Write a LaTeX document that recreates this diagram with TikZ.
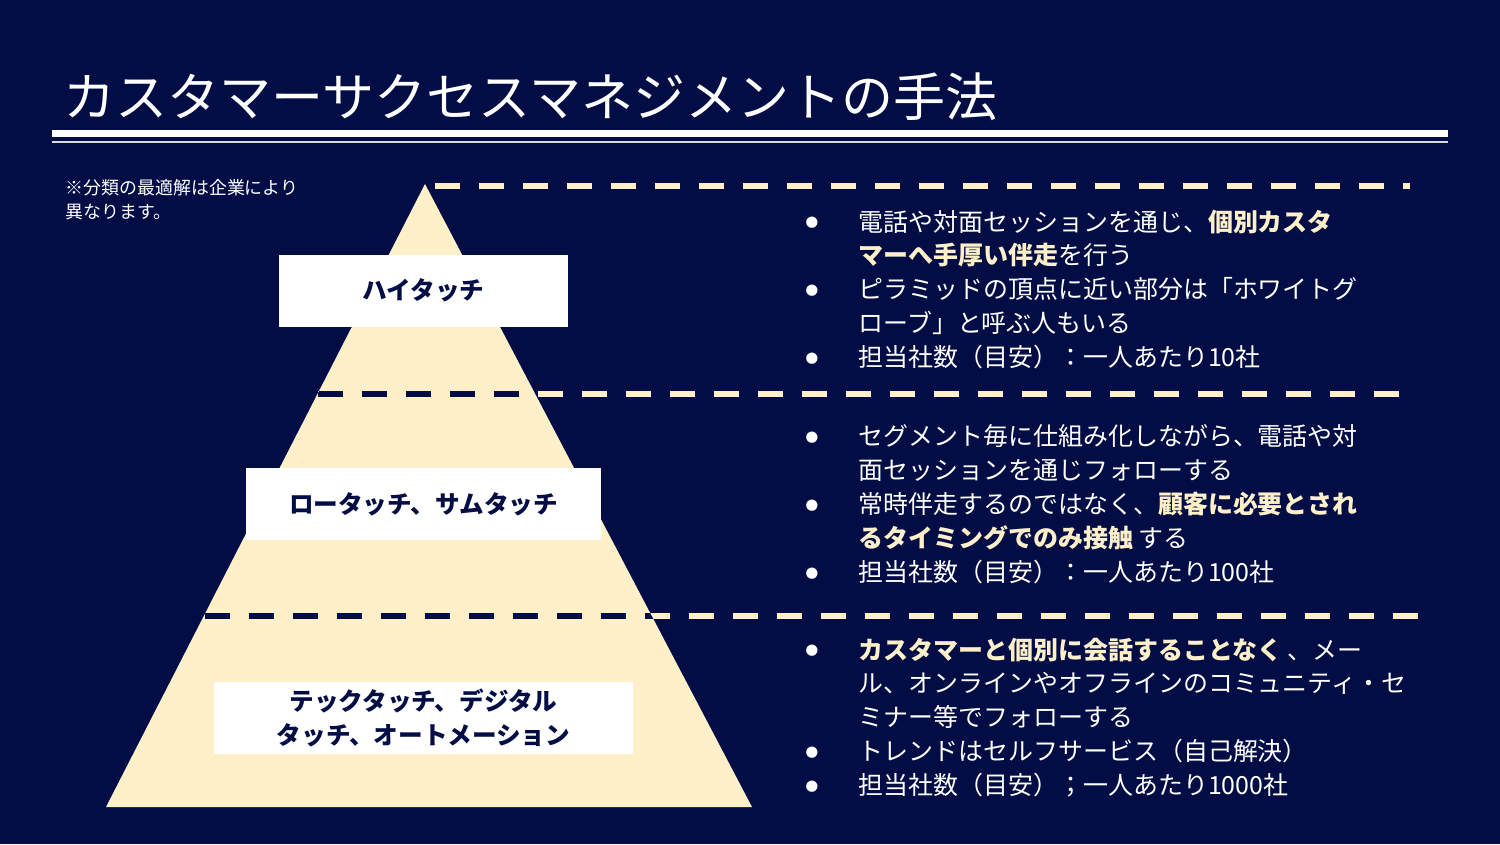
\documentclass[tikz,border=0pt]{standalone}
\usepackage{fontspec}
\setmainfont{Noto Sans CJK JP}
\usepackage{xcolor}
\usetikzlibrary{positioning}

\definecolor{navy}{HTML}{020D45}
\definecolor{cream}{HTML}{FFF0C9}

\newcommand{\hl}[1]{{\bfseries\color{cream}#1}}
\newcommand{\itm}{\makebox[5.3mm][l]{\raisebox{0.25ex}{\fontsize{3.6pt}{4pt}\selectfont ●}}}
\newcommand{\ind}{\hspace*{5.3mm}}

\begin{document}
\begin{tikzpicture}[
    x=0.1mm, y=-0.1mm,
    tier/.style={rectangle, fill=white, text=navy, align=center, inner sep=0pt, minimum height=7.2mm, font=\fontsize{7pt}{9.67pt}\selectfont\bfseries},
    divider/.style={line width=0.6mm, dash pattern=on 2.5mm off 1.9mm},
    bullets/.style={anchor=north west, align=left, inner sep=0pt, text=white, font=\fontsize{7.1pt}{9.67pt}\selectfont}
]

% background
\fill[navy] (0,0) rectangle (1500,844);
\useasboundingbox (0,0) rectangle (1500,844);

% title and rules
\node[anchor=west, inner sep=0pt, text=white, font=\fontsize{14.8pt}{18pt}\selectfont] (title) at (63,97) {カスタマーサクセスマネジメントの手法};
\fill[white] (52,130) rectangle (1448,137);
\draw[white!85!navy, line width=0.25mm] (52,142) -- (1448,142);

% note
\node[anchor=north west, inner sep=0pt, align=left, text=white, font=\fontsize{5.1pt}{6.8pt}\selectfont] (note) at (65,179) {※分類の最適解は企業により\\異なります。};

% pyramid
\coordinate (apex) at (425,184);
\coordinate (bl) at (106,807);
\coordinate (br) at (752,807);
\fill[cream] (apex) -- (br) -- (bl) -- cycle;

% dashed dividers
\coordinate (d1a) at (435,186);
\coordinate (d1b) at (1410,186);
\coordinate (d2a) at (318,394);
\coordinate (d2b) at (1417,394);
\coordinate (d3a) at (205,616);
\coordinate (d3b) at (1418,616);
\draw[divider, cream] (d1a) -- (d1b);
\draw[divider, cream] (d2a) -- (d2b);
\draw[divider, cream] (d3a) -- (d3b);
\begin{scope}
  \clip (apex) -- (br) -- (bl) -- cycle;
  \draw[divider, navy] (d2a) -- (d2b);
  \draw[divider, navy] (d3a) -- (d3b);
\end{scope}

% tier labels
\node[tier, minimum width=28.9mm] (high) at (423.5,290.5) {ハイタッチ};
\node[tier, minimum width=35.5mm] (low) at (423.5,504) {ロータッチ、サムタッチ};
\node[tier, minimum width=41.9mm] (tech) at (423.5,718) {テックタッチ、デジタル\\タッチ、オートメーション};

% descriptions
\node[bullets] (highText) at (805,209) {%
\itm 電話や対面セッションを通じ、\hl{個別カスタ}\\
\ind\hl{マーへ手厚い伴走}を行う\\
\itm ピラミッドの頂点に近い部分は「ホワイトグ\\
\ind ローブ」と呼ぶ人もいる\\
\itm 担当社数（目安）：一人あたり10社};

\node[bullets] (lowText) at (805,424) {%
\itm セグメント毎に仕組み化しながら、電話や対\\
\ind 面セッションを通じフォローする\\
\itm 常時伴走するのではなく、\hl{顧客に必要とされ}\\
\ind\hl{るタイミングでのみ接触} する\\
\itm 担当社数（目安）：一人あたり100社};

\node[bullets] (techText) at (805,637) {%
\itm \hl{カスタマーと個別に会話することなく} 、メー\\
\ind ル、オンラインやオフラインのコミュニティ・セ\\
\ind ミナー等でフォローする\\
\itm トレンドはセルフサービス（自己解決）\\
\itm 担当社数（目安）；一人あたり1000社};

\end{tikzpicture}
\end{document}
